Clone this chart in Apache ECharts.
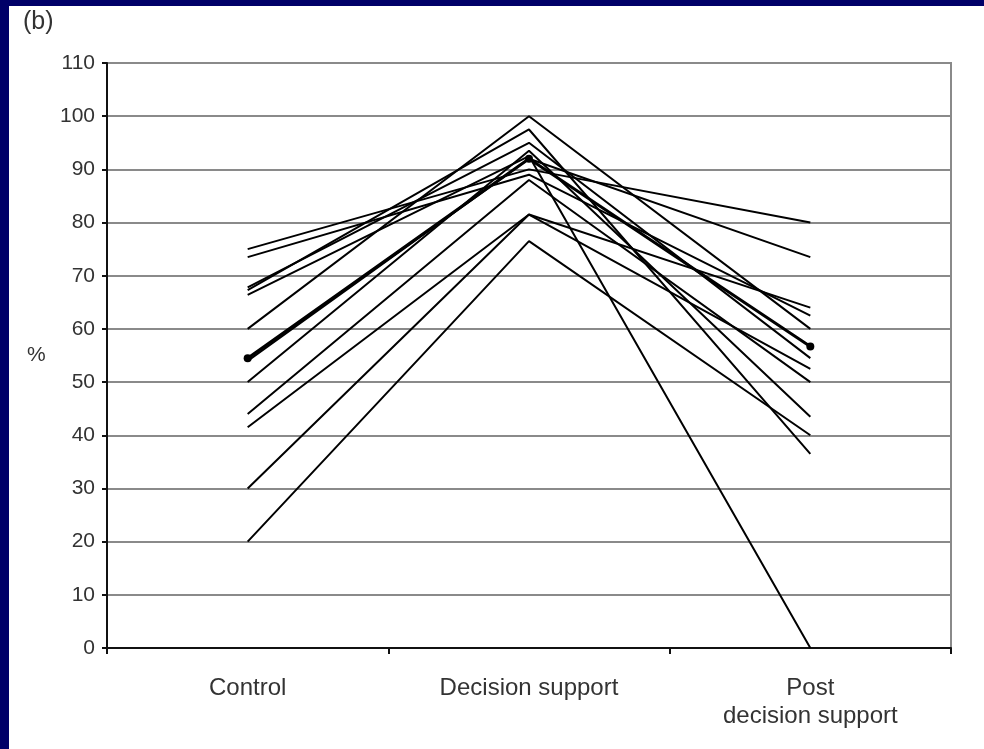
<!DOCTYPE html>
<html>
<head>
<meta charset="utf-8">
<title>Scores</title>
<script src="https://cdn.jsdelivr.net/npm/echarts@6/dist/echarts.min.js"></script>
<style>
    html, body { margin: 0; padding: 0; background: #000068; }
    #chart { width: 984px; height: 749px; }
</style>
</head>
<body>
<div id="chart"></div>
<script>
// categories on the x axis
var categories = ['Control', 'Decision support', 'Post\ndecision support'];

// one entry per patient (%)
var controlScores = [75, 73.5, 67.8, 67.3, 66.4, 60, 54, 50, 44, 41.5, 30, 20];
var supportScores = [90, 89, 95, 97.5, 92.5, 100, 92, 93.5, 88, 81.5, 81.5, 76.5];
var postScores    = [80, 62.5, 54.5, 36.5, 0, 60, 73.5, 43.5, 50, 64, 52.5, 40];

// the line drawn with dots
var meanScores = [54.5, 92, 56.7];

var myChart = echarts.init(document.getElementById('chart'));

var series = [];
for (var i = 0; i < controlScores.length; i++) {
    series.push({
        name: 'patient' + (i + 1),
        type: 'line',
        data: [controlScores[i], supportScores[i], postScores[i]],
        symbol: 'none',
        lineStyle: { color: '#000', width: 2 },
        silent: true
    });
}
series.push({
    name: 'mean',
    type: 'line',
    data: meanScores,
    symbol: 'circle',
    symbolSize: 8,
    itemStyle: { color: '#000' },
    lineStyle: { color: '#000', width: 3 },
    silent: true
});

var option = {
    backgroundColor: '#000068',
    animation: false,
    textStyle: { fontFamily: 'Liberation Sans' },
    graphic: [
        {
            type: 'rect',
            shape: { x: 9, y: 6, width: 975, height: 743 },
            style: { fill: '#fff' },
            z: -10
        },
        {
            type: 'text',
            left: 23,
            top: 10,
            style: { text: '(b)', fontSize: 25, fill: '#333', fontFamily: 'Liberation Sans' }
        },
        {
            type: 'text',
            left: 27,
            top: 345,
            style: { text: '%', fontSize: 21, fill: '#333', fontFamily: 'Liberation Sans' }
        }
    ],
    grid: {
        left: 107,
        right: 33,
        top: 63,
        bottom: 101,
        show: true,
        borderColor: '#8a8a8a',
        borderWidth: 2,
        backgroundColor: 'transparent'
    },
    xAxis: {
        type: 'category',
        data: categories,
        boundaryGap: true,
        axisLine: { lineStyle: { color: '#111', width: 2 } },
        axisTick: { show: true, length: 6, lineStyle: { color: '#111', width: 2 } },
        axisLabel: {
            color: '#333',
            fontSize: 24,
            lineHeight: 28,
            margin: 26
        },
        splitLine: { show: false }
    },
    yAxis: {
        type: 'value',
        min: 0,
        max: 110,
        interval: 10,
        axisLine: { show: true, lineStyle: { color: '#111', width: 2 } },
        axisTick: { show: true, length: 5, lineStyle: { color: '#111', width: 2 } },
        axisLabel: { color: '#333', fontSize: 21, margin: 12 },
        splitLine: { lineStyle: { color: '#8a8a8a', width: 2 } }
    },
    series: series
};

myChart.setOption(option);
</script>
</body>
</html>
